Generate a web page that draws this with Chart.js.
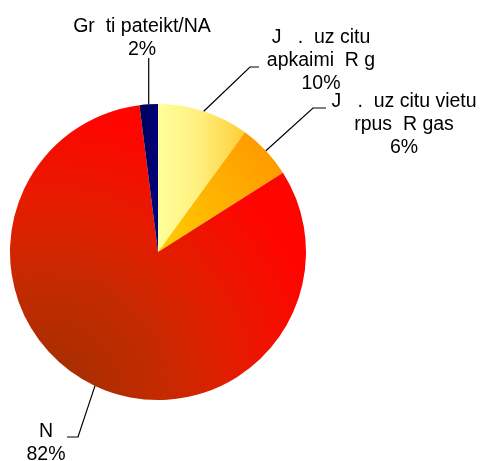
<!DOCTYPE html>
<html>
<head>
<meta charset="utf-8">
<script src="https://cdn.jsdelivr.net/npm/chart.js@4.4.0/dist/chart.umd.min.js"></script>
<style>
  html, body { margin: 0; padding: 0; background: #fff; }
</style>
</head>
<body>
<canvas id="myChart" width="482" height="461"></canvas>
<script>
const categories = [
    ['J   .  uz citu', 'apkaimi  R g'],
    ['J   .  uz citu vietu', 'rpus  R gas'],
    ['N'],
    ['Gr  ti pateikt/NA']
];
const values = [10, 6, 82, 2];
const valueLabels = ['10%', '6%', '82%', '2%'];

// leader line elbow / end and text centre + first baseline for each slice
const labelLayout = [
    { elbow: [250, 67], end: [259, 67], tx: 321, ty: 43 },
    { elbow: [313, 108], end: [326, 108], tx: 404, ty: 107 },
    { elbow: [78, 437], end: [67, 437], tx: 46, ty: 437 },
    { elbow: [null, 58], end: null, tx: 142, ty: 32 }
];

function sliceFill(context) {
    const chart = context.chart;
    const area = chart.chartArea;
    if (!area) return '#ccc';
    const c = chart.ctx;
    const cx = (area.left + area.right) / 2;
    const cy = (area.top + area.bottom) / 2;
    const r = Math.min(area.right - area.left, area.bottom - area.top) / 2;
    let g;
    switch (context.dataIndex) {
        case 0:
            g = c.createLinearGradient(cx, 0, cx + r * 0.6, 0);
            g.addColorStop(0, '#FFFF99');
            g.addColorStop(0.45, '#FFF080');
            g.addColorStop(1, '#FFCC33');
            return g;
        case 1:
            g = c.createLinearGradient(cx + 5, cy, cx + r * 0.85, cy - r * 0.58);
            g.addColorStop(0, '#FFCC00');
            g.addColorStop(1, '#FF9900');
            return g;
        case 2:
            g = c.createRadialGradient(cx - r * 0.76, cy + r * 0.97, 0, cx - r * 0.76, cy + r * 0.97, r * 2.0);
            g.addColorStop(0, '#9E3000');
            g.addColorStop(0.4, '#C52A00');
            g.addColorStop(0.65, '#E51C00');
            g.addColorStop(0.95, '#FF0500');
            return g;
        default:
            g = c.createLinearGradient(cx - r * 0.13, 0, cx, 0);
            g.addColorStop(0, '#000050');
            g.addColorStop(1, '#000080');
            return g;
    }
}

const leaderLabels = {
    id: 'leaderLabels',
    afterDatasetsDraw(chart) {
        const c = chart.ctx;
        const meta = chart.getDatasetMeta(0);
        c.save();
        c.strokeStyle = '#000';
        c.lineWidth = 1.2;
        c.fillStyle = '#000';
        c.font = '19.5px "Liberation Sans", Arial, sans-serif';
        c.textAlign = 'center';
        c.textBaseline = 'alphabetic';
        meta.data.forEach((arc, i) => {
            const p = arc.getProps(['x', 'y', 'startAngle', 'endAngle', 'outerRadius']);
            const mid = (p.startAngle + p.endAngle) / 2;
            const ax = p.x + Math.cos(mid) * p.outerRadius;
            const ay = p.y + Math.sin(mid) * p.outerRadius;
            const lay = labelLayout[i];
            const ex = lay.elbow[0] === null ? ax : lay.elbow[0];
            c.beginPath();
            c.moveTo(ax, ay);
            c.lineTo(ex, lay.elbow[1]);
            if (lay.end) c.lineTo(lay.end[0], lay.end[1]);
            c.stroke();
            const lines = categories[i].concat([valueLabels[i]]);
            lines.forEach((t, k) => c.fillText(t, lay.tx, lay.ty + k * 23));
        });
        c.restore();
    }
};

const ctx = document.getElementById('myChart').getContext('2d');
const myChart = new Chart(ctx, {
    type: 'pie',
    data: {
        labels: categories.map(l => l.join(' ')),
        datasets: [{
            data: values,
            backgroundColor: sliceFill,
            borderWidth: 0
        }]
    },
    options: {
        responsive: false,
        animation: false,
        layout: {
            padding: { left: 10, top: 104, right: 176, bottom: 61 }
        },
        plugins: {
            legend: { display: false },
            tooltip: { enabled: false }
        }
    },
    plugins: [leaderLabels]
});
</script>
</body>
</html>
